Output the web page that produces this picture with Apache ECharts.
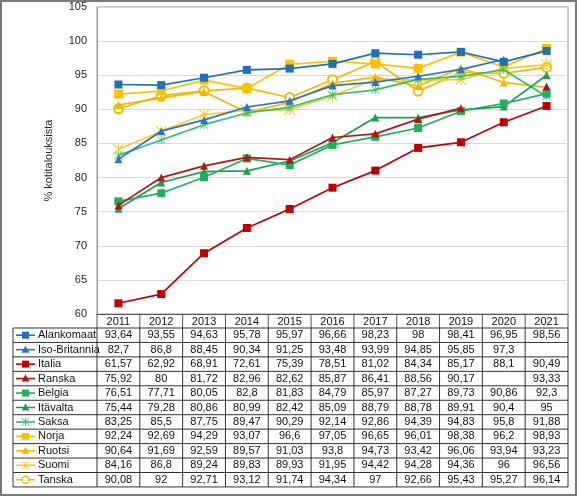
<!DOCTYPE html>
<html><head><meta charset="utf-8">
<script src="https://cdn.jsdelivr.net/npm/echarts/dist/echarts.min.js"></script>
<style>html,body{margin:0;padding:0;background:#fff}#c{width:577px;height:496px}</style>
</head><body><div id="c"></div>
<script>
const years = ['2011','2012','2013','2014','2015','2016','2017','2018','2019','2020','2021'];
const yTicks = { min: 60, max: 105, interval: 5 };
const alankomaat   = [93.64, 93.55, 94.63, 95.78, 95.97, 96.66, 98.23, 98, 98.41, 96.95, 98.56];
const isoBritannia = [82.7, 86.8, 88.45, 90.34, 91.25, 93.48, 93.99, 94.85, 95.85, 97.3, null];
const italia       = [61.57, 62.92, 68.91, 72.61, 75.39, 78.51, 81.02, 84.34, 85.17, 88.1, 90.49];
const ranska       = [75.92, 80, 81.72, 82.96, 82.62, 85.87, 86.41, 88.56, 90.17, null, 93.33];
const belgia       = [76.51, 77.71, 80.05, 82.8, 81.83, 84.79, 85.97, 87.27, 89.73, 90.86, 92.3];
const itavalta     = [75.44, 79.28, 80.86, 80.99, 82.42, 85.09, 88.79, 88.78, 89.91, 90.4, 95];
const saksa        = [83.25, 85.5, 87.75, 89.47, 90.29, 92.14, 92.86, 94.39, 94.83, 95.8, 91.88];
const norja        = [92.24, 92.69, 94.29, 93.07, 96.6, 97.05, 96.65, 96.01, 98.38, 96.2, 98.93];
const ruotsi       = [90.64, 91.69, 92.59, 89.57, 91.03, 93.8, 94.73, 93.42, 96.06, 93.94, 93.23];
const suomi        = [84.16, 86.8, 89.24, 89.83, 89.93, 91.95, 94.42, 94.28, 94.36, 96, 96.56];
const tanska       = [90.08, 92, 92.71, 93.12, 91.74, 94.34, 97, 92.66, 95.43, 95.27, 96.14];
const seriesNames = ['Alankomaat','Iso-Britannia','Italia','Ranska','Belgia','Itävalta','Saksa','Norja','Ruotsi','Suomi','Tanska'];
const seriesData = [alankomaat, isoBritannia, italia, ranska, belgia, itavalta, saksa, norja, ruotsi, suomi, tanska];
const yAxisName = '% kotitalouksista';

const ASTER = 'path://M4.55,0L5.45,0L5.45,10L4.55,10Z M0,0.65L0.65,0L10,9.35L9.35,10Z M9.35,0L10,0.65L0.65,10L0,9.35Z';
const styles = [
  {c:'#1f6fc0', s:'rect', z:8, k:'sq'},
  {c:'#2a74c4', s:'triangle', z:8, k:'tri'},
  {c:'#c00000', s:'rect', z:8, k:'sq'},
  {c:'#b01818', s:'triangle', z:8, k:'tri'},
  {c:'#1fb05a', s:'rect', z:8, k:'sq'},
  {c:'#1e9e4f', s:'triangle', z:8, k:'tri'},
  {c:'#30c070', s:ASTER, z:8, k:'ast'},
  {c:'#ffc000', s:'rect', z:9, k:'sq'},
  {c:'#f5b800', s:'triangle', z:8, k:'tri'},
  {c:'#ffc82a', s:ASTER, z:11, k:'ast'},
  {c:'#f5b800', s:'emptyCircle', z:9, k:'cir'}
];

const FONT = '"Liberation Sans", Arial, sans-serif';
const chart = echarts.init(document.getElementById('c'));
const GRID = {left: 97, right: 9, top: 7, height: 307};

chart.setOption({
  animation: false,
  backgroundColor: '#fff',
  textStyle: {fontFamily: FONT},
  grid: {left: GRID.left, right: GRID.right, top: GRID.top, height: GRID.height, show: true, borderColor: '#9a9a9a', borderWidth: 1},
  xAxis: {
    type: 'category', data: years, boundaryGap: true,
    axisLine: {show: true, lineStyle: {color: '#555', width: 1}},
    axisTick: {show: false},
    axisLabel: {color: '#111', fontSize: 11, margin: 2, fontFamily: FONT}
  },
  yAxis: {
    type: 'value', min: yTicks.min, max: yTicks.max, interval: yTicks.interval,
    name: yAxisName, nameLocation: 'middle', nameRotate: 90, nameGap: 43,
    nameTextStyle: {color: '#222', fontSize: 11, fontFamily: FONT},
    axisLine: {show: true, lineStyle: {color: '#9a9a9a'}},
    axisTick: {show: false},
    axisLabel: {color: '#222', fontSize: 11, margin: 10, fontFamily: FONT},
    splitLine: {lineStyle: {color: '#d9d9d9', width: 1}}
  },
  series: seriesNames.map((n, i) => ({
    name: n, type: 'line', data: seriesData[i].map(v => v === null ? '-' : v),
    connectNulls: false,
    symbol: styles[i].s, symbolSize: styles[i].z, showSymbol: true,
    lineStyle: {color: styles[i].c, width: 1.7},
    itemStyle: {color: styles[i].c, borderColor: styles[i].c, borderWidth: styles[i].k === 'cir' ? 1.5 : 0},
    z: 2 + (10 - i) * 0.01
  }))
});

// Data table built from the same arrays, positioned via the chart's category scale
const x0 = chart.convertToPixel({xAxisIndex: 0}, 0);
const x1 = chart.convertToPixel({xAxisIndex: 0}, 1);
const colW = x1 - x0;
const left = x0 - colW / 2;
const right = left + colW * years.length;
const headTop = GRID.top + GRID.height;
const rowTop = headTop + 14;
const rowH = 14.45;
const legLeft = 13;
const lineCol = '#333';
const g = [];
const L = (xa, ya, xb, yb, col, w) => g.push({type: 'line', shape: {x1: xa, y1: ya, x2: xb, y2: yb}, style: {stroke: col || lineCol, lineWidth: w || 1}, silent: true});

for (let i = 0; i <= years.length; i++) L(left + i * colW, headTop, left + i * colW, rowTop, '#555');
const tableBottom = rowTop + rowH * seriesNames.length;
for (let r = 0; r <= seriesNames.length; r++) L(legLeft, rowTop + r * rowH, right, rowTop + r * rowH);
L(legLeft, rowTop, legLeft, tableBottom);
for (let i = 0; i <= years.length; i++) L(left + i * colW, rowTop, left + i * colW, tableBottom);

seriesNames.forEach((n, r) => {
  const cy = rowTop + r * rowH + rowH / 2;
  const st = styles[r];
  L(legLeft + 3, cy, legLeft + 22, cy, st.c, 1.6);
  const mx = legLeft + 12.5;
  if (st.k === 'sq') g.push({type: 'rect', shape: {x: mx - 3.5, y: cy - 3.5, width: 7, height: 7}, style: {fill: st.c}});
  if (st.k === 'tri') g.push({type: 'polygon', shape: {points: [[mx, cy - 4], [mx + 4, cy + 3], [mx - 4, cy + 3]]}, style: {fill: st.c}});
  if (st.k === 'cir') g.push({type: 'circle', shape: {cx: mx, cy: cy, r: 3.5}, style: {fill: '#fff', stroke: st.c, lineWidth: 1.3}});
  if (st.k === 'ast') {
    const a = 4;
    L(mx - a, cy - a, mx + a, cy + a, st.c, 1);
    L(mx + a, cy - a, mx - a, cy + a, st.c, 1);
    L(mx, cy - a, mx, cy + a, st.c, 1);
  }
  g.push({type: 'text', x: legLeft + 25, y: cy, style: {text: n, fill: '#111', font: '11px ' + FONT, textVerticalAlign: 'middle', verticalAlign: 'middle'}, silent: true});
  seriesData[r].forEach((v, i) => {
    if (v === null) return;
    g.push({type: 'text', x: left + i * colW + colW / 2, y: cy,
      style: {text: String(v).replace('.', ','), fill: '#111', font: '11px ' + FONT, align: 'center', textAlign: 'center', verticalAlign: 'middle', textVerticalAlign: 'middle'}, silent: true});
  });
});
g.push({type: 'rect', shape: {x: 1, y: 1, width: 575, height: 494}, style: {fill: 'none', stroke: '#7a7a7a', lineWidth: 2}, silent: true});

chart.setOption({graphic: {elements: g}});
</script>
</body></html>
